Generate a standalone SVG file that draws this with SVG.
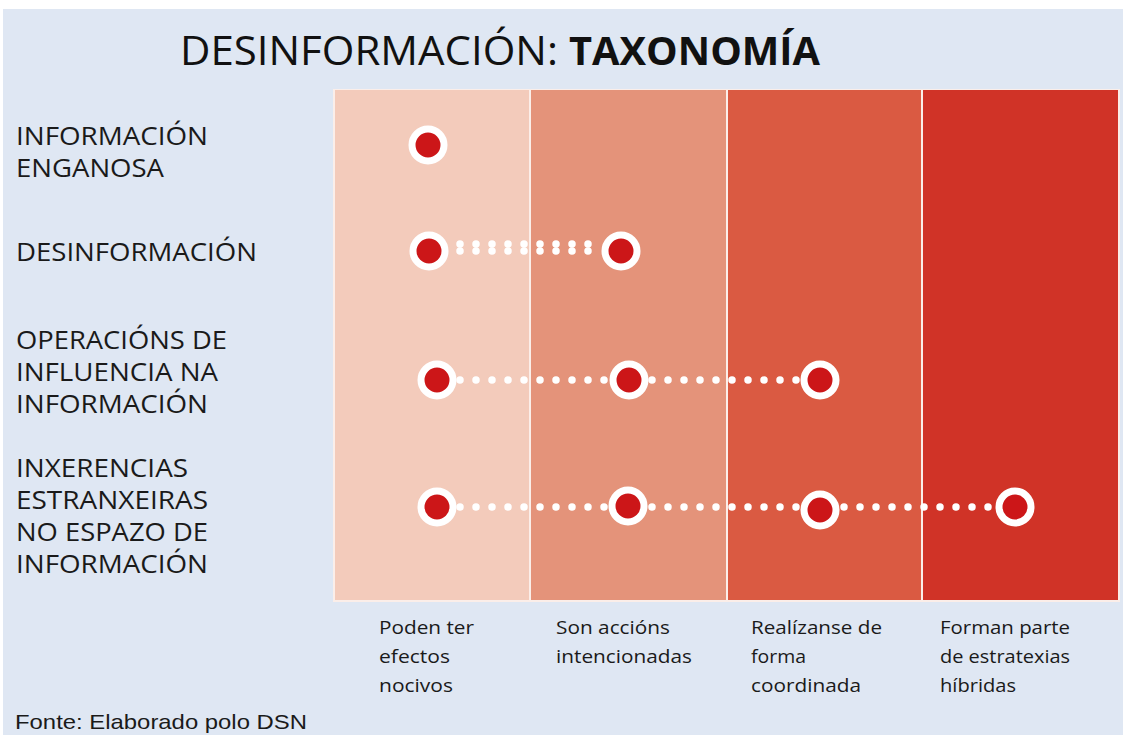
<svg xmlns="http://www.w3.org/2000/svg" width="1123" height="735" viewBox="0 0 1123 735">
<style>
.lbl{font-family:"Open Sans","Noto Sans",sans-serif;font-size:25px;fill:#1a1a1a}
.cap{font-family:"Open Sans","Noto Sans",sans-serif;font-size:18px;fill:#1a1a1a}
.dotline{stroke:#ffffff;stroke-width:7.5;stroke-linecap:round;stroke-dasharray:0 16;fill:none}
.ring{fill:#cc1618;stroke:#ffffff;stroke-width:7}
</style>
<rect x="0" y="0" width="1123" height="735" fill="#ffffff"/>
<rect x="3" y="9" width="1120" height="726" fill="#dfe7f3"/>
<text x="180" y="65" font-family="'Open Sans','Noto Sans',sans-serif" font-size="40" fill="#111"><tspan textLength="378" lengthAdjust="spacingAndGlyphs">DESINFORMACIÓN:</tspan><tspan x="569" font-weight="bold" textLength="251" lengthAdjust="spacingAndGlyphs">TAXONOMÍA</tspan></text>
<g id="columns">
<rect x="333" y="89" width="787" height="513" fill="#fbeee9"/>
<rect x="335" y="90" width="194" height="510" fill="#f3cbbb"/>
<rect x="531" y="90" width="195" height="510" fill="#e4937a"/>
<rect x="728" y="90" width="193" height="510" fill="#da5a42"/>
<rect x="923" y="90" width="195" height="510" fill="#d03327"/>
</g>
<g id="row-labels">
<text class="lbl" x="16" y="145" textLength="192" lengthAdjust="spacingAndGlyphs">INFORMACIÓN</text>
<text class="lbl" x="16" y="177" textLength="148" lengthAdjust="spacingAndGlyphs">ENGANOSA</text>
<text class="lbl" x="16" y="261" textLength="241" lengthAdjust="spacingAndGlyphs">DESINFORMACIÓN</text>
<text class="lbl" x="16" y="349" textLength="211" lengthAdjust="spacingAndGlyphs">OPERACIÓNS DE</text>
<text class="lbl" x="16" y="381" textLength="202" lengthAdjust="spacingAndGlyphs">INFLUENCIA NA</text>
<text class="lbl" x="16" y="413" textLength="192" lengthAdjust="spacingAndGlyphs">INFORMACIÓN</text>
<text class="lbl" x="16" y="477" textLength="172" lengthAdjust="spacingAndGlyphs">INXERENCIAS</text>
<text class="lbl" x="16" y="509" textLength="192" lengthAdjust="spacingAndGlyphs">ESTRANXEIRAS</text>
<text class="lbl" x="16" y="541" textLength="192" lengthAdjust="spacingAndGlyphs">NO ESPAZO DE</text>
<text class="lbl" x="16" y="573" textLength="192" lengthAdjust="spacingAndGlyphs">INFORMACIÓN</text>
</g>
<g id="connectors">
<line class="dotline" x1="460" y1="244" x2="604" y2="244"/>
<line class="dotline" x1="460" y1="251" x2="604" y2="251"/>
<line class="dotline" x1="460" y1="380" x2="812" y2="380"/>
<line class="dotline" x1="460" y1="507" x2="1004" y2="507"/>
</g>
<g id="dots">
<circle class="ring" cx="428" cy="145" r="16"/>
<circle class="ring" cx="429" cy="251" r="16"/>
<circle class="ring" cx="621" cy="251" r="16"/>
<circle class="ring" cx="437" cy="380" r="16"/>
<circle class="ring" cx="629" cy="380" r="16"/>
<circle class="ring" cx="820" cy="380" r="16"/>
<circle class="ring" cx="437" cy="507" r="16"/>
<circle class="ring" cx="628" cy="506" r="16"/>
<circle class="ring" cx="820" cy="510" r="16"/>
<circle class="ring" cx="1015" cy="507" r="16"/>
</g>
<g id="column-captions">
<text class="cap" x="379" y="634" textLength="95" lengthAdjust="spacingAndGlyphs">Poden ter</text>
<text class="cap" x="379" y="663" textLength="71" lengthAdjust="spacingAndGlyphs">efectos</text>
<text class="cap" x="379" y="692" textLength="74" lengthAdjust="spacingAndGlyphs">nocivos</text>
<text class="cap" x="556" y="634" textLength="114" lengthAdjust="spacingAndGlyphs">Son accións</text>
<text class="cap" x="556" y="663" textLength="136" lengthAdjust="spacingAndGlyphs">intencionadas</text>
<text class="cap" x="751" y="634" textLength="131" lengthAdjust="spacingAndGlyphs">Realízanse de</text>
<text class="cap" x="751" y="663" textLength="55" lengthAdjust="spacingAndGlyphs">forma</text>
<text class="cap" x="751" y="692" textLength="110" lengthAdjust="spacingAndGlyphs">coordinada</text>
<text class="cap" x="940" y="634" textLength="130" lengthAdjust="spacingAndGlyphs">Forman parte</text>
<text class="cap" x="940" y="663" textLength="130" lengthAdjust="spacingAndGlyphs">de estratexias</text>
<text class="cap" x="940" y="692" textLength="76" lengthAdjust="spacingAndGlyphs">híbridas</text>
</g>
<text x="15" y="729" font-family="'Liberation Sans',Arial,sans-serif" font-size="21" fill="#1a1a1a" textLength="292" lengthAdjust="spacingAndGlyphs">Fonte: Elaborado polo DSN</text>
</svg>
